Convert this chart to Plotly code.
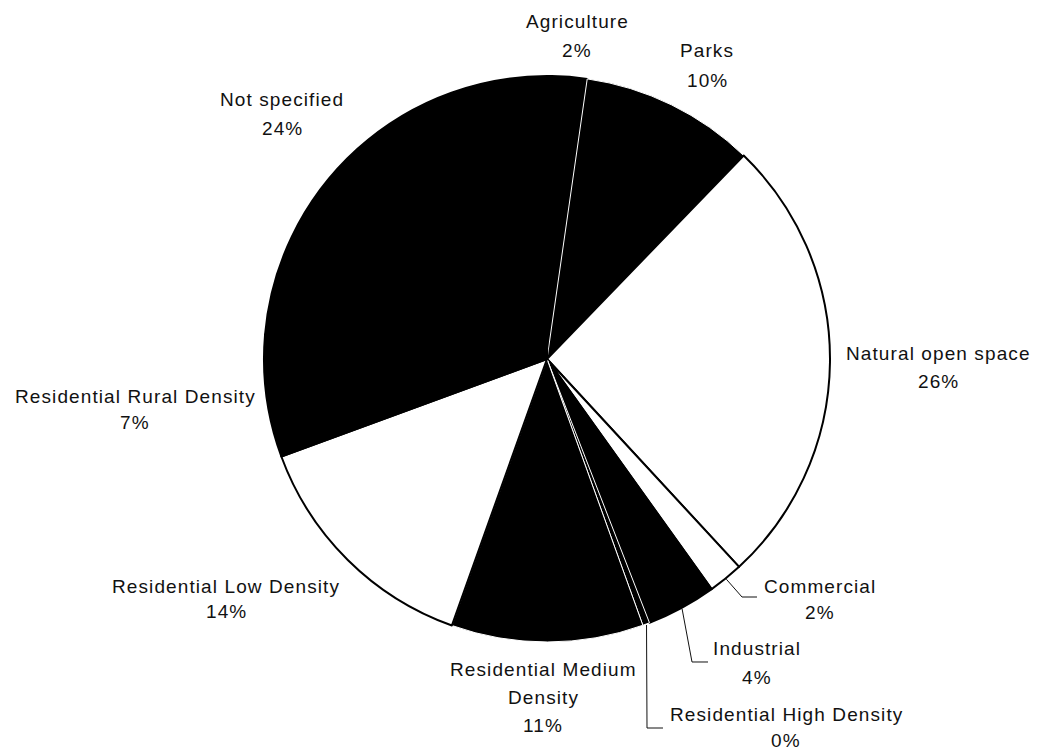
import math
import plotly.graph_objects as go

# Land use shares (percent), listed clockwise from 12 o'clock
categories = [
    "Agriculture",
    "Parks",
    "Natural open space",
    "Commercial",
    "Industrial",
    "Residential High Density",
    "Residential Medium Density",
    "Residential Low Density",
    "Residential Rural Density",
    "Not specified",
]
shares = [2, 10, 26, 2, 4, 0.4, 11, 14, 7, 24]

# Slice fills and outlines (black / white print style)
fill_colors = ["#000000", "#000000", "#ffffff", "#ffffff", "#000000",
               "#000000", "#000000", "#ffffff", "#000000", "#000000"]
edge_colors = ["#000000", "#ffffff", "#000000", "#000000", "#000000",
               "#ffffff", "#ffffff", "#000000", "#000000", "#000000"]
edge_widths = [2, 1, 2, 2, 2, 1, 1, 2, 2, 2]

W, H = 1037, 753
CX, CY, R = 547, 359, 283          # pie centre and radius in pixels
ROTATION = 1

def px(x):
    return x / W

def py(y):
    return 1 - y / H

fig = go.Figure(go.Pie(
    labels=categories,
    values=shares,
    sort=False,
    direction="clockwise",
    rotation=ROTATION,
    textinfo="none",
    hoverinfo="label+percent",
    marker=dict(colors=fill_colors,
                line=dict(color=edge_colors, width=edge_widths)),
    domain=dict(x=[px(CX - R), px(CX + R)], y=[py(CY + R), py(CY - R)]),
    showlegend=False,
))

# Label placement: text lines, centre x, and centre y of each line (pixels)
label_lines = {
    "Agriculture": ["Agriculture"],
    "Parks": ["Parks"],
    "Natural open space": ["Natural open space"],
    "Commercial": ["Commercial"],
    "Industrial": ["Industrial"],
    "Residential High Density": ["Residential High Density"],
    "Residential Medium Density": ["Residential Medium", "Density"],
    "Residential Low Density": ["Residential Low Density"],
    "Residential Rural Density": ["Residential Rural Density"],
    "Not specified": ["Not specified"],
}
label_pos = {
    "Agriculture": (577, [22, 51]),
    "Parks": (707, [51, 80]),
    "Natural open space": (938, [353, 381]),
    "Commercial": (820, [586, 612]),
    "Industrial": (757, [648, 677]),
    "Residential High Density": (786, [714, 740]),
    "Residential Medium Density": (543, [669, 697, 725]),
    "Residential Low Density": (226, [586, 611]),
    "Residential Rural Density": (135, [396, 423]),
    "Not specified": (282, [99, 129]),
}
# Elbow leader lines: bend point and end point next to the label
leader_elbows = {
    "Commercial": [(742, 597), (757, 597)],
    "Industrial": [(692, 662), (708, 662)],
    "Residential High Density": [(647, 728), (663, 728)],
}

FONT = dict(family="Liberation Sans, Arial, sans-serif", size=19, color="#111111")

def spaced(t):
    return '<span style="letter-spacing:1.1px">' + t + "</span>"

annotations = []
for cat, val in zip(categories, shares):
    x, ys = label_pos[cat]
    lines = label_lines[cat] + [f"{round(val)}%"]
    for line, y in zip(lines, ys):
        annotations.append(dict(
            x=px(x), y=py(y), xref="paper", yref="paper",
            text=spaced(line), showarrow=False,
            xanchor="center", yanchor="middle", font=FONT,
        ))

# Leader lines start on the rim at the slice's middle angle
total = sum(shares)
shapes = []
cum = 0.0
for cat, val in zip(categories, shares):
    mid = math.radians(ROTATION + 360 * (cum + val / 2) / total)
    cum += val
    if cat not in leader_elbows:
        continue
    sx = CX + (R + 1) * math.sin(mid)
    sy = CY - (R + 1) * math.cos(mid)
    pts = [(sx, sy)] + leader_elbows[cat]
    path = "M " + " L ".join(f"{px(a):.5f},{py(b):.5f}" for a, b in pts)
    shapes.append(dict(type="path", path=path, xref="paper", yref="paper",
                       line=dict(color="#111111", width=1)))

fig.update_layout(
    width=W, height=H,
    margin=dict(l=0, r=0, t=0, b=0),
    paper_bgcolor="white",
    plot_bgcolor="white",
    annotations=annotations,
    shapes=shapes,
)

fig.write_html("out.html")
